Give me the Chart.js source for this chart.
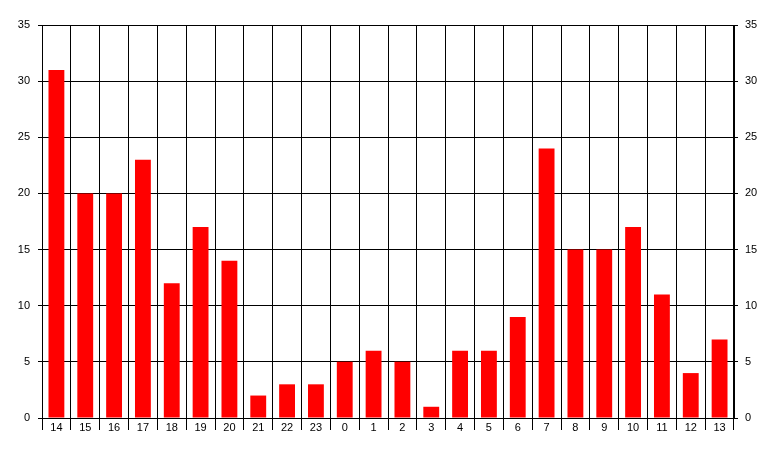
<!DOCTYPE html>
<html lang="en">
<head>
    <meta charset="UTF-8" />
    <title>Hourly counts</title>
    <script src="https://cdn.jsdelivr.net/npm/chart.js"></script>
    <style>
        html, body { margin: 0; padding: 0; background: #fff; }
        #wrap { width: 777px; height: 457px; }
    </style>
</head>
<body>
<div id="wrap"><canvas id="hourChart"></canvas></div>
<script>
    // hours, starting at 14:00 and wrapping round to 13:00
    const hours = ['14','15','16','17','18','19','20','21','22','23','0','1','2','3','4','5','6','7','8','9','10','11','12','13'];
    const counts = [31, 20, 20, 23, 12, 17, 14, 2, 3, 3, 5, 6, 5, 1, 6, 6, 9, 24, 15, 15, 17, 11, 4, 7];
    const yMax = 35;
    const yStep = 5;

    const tickFont = { family: 'Liberation Sans, Arial, sans-serif', size: 11 };

    const ctx = document.getElementById('hourChart').getContext('2d');
    new Chart(ctx, {
        type: 'bar',
        data: {
            labels: hours,
            datasets: [{
                data: counts,
                backgroundColor: '#ff0000',
                borderWidth: 0,
                barPercentage: 0.55,
                categoryPercentage: 1.0
            }]
        },
        options: {
            responsive: true,
            maintainAspectRatio: false,
            animation: false,
            layout: { padding: { top: 25, left: 0, right: 0, bottom: 0 } },
            plugins: { legend: { display: false }, tooltip: { enabled: false } },
            scales: {
                x: {
                    grid: { offset: true, color: '#000', lineWidth: 1, tickLength: 12, drawTicks: true },
                    border: { display: true, color: '#000' },
                    ticks: { color: '#000', font: tickFont, padding: -9, maxRotation: 0, autoSkip: false },
                    afterFit: s => { s.height = 39; }
                },
                y: {
                    position: 'left',
                    min: 0, max: yMax,
                    grid: { color: '#000', lineWidth: 1, tickLength: 4 },
                    border: { display: true, color: '#000' },
                    ticks: { stepSize: yStep, color: '#000', font: tickFont, padding: 8 },
                    afterFit: s => { s.width = 42; }
                },
                y2: {
                    position: 'right',
                    min: 0, max: yMax,
                    grid: { drawOnChartArea: false, color: '#000', lineWidth: 1, tickLength: 4 },
                    border: { display: true, color: '#000' },
                    ticks: { stepSize: yStep, color: '#000', font: tickFont, padding: 7 },
                    afterFit: s => { s.width = 43; }
                }
            }
        }
    });
</script>
</body>
</html>
